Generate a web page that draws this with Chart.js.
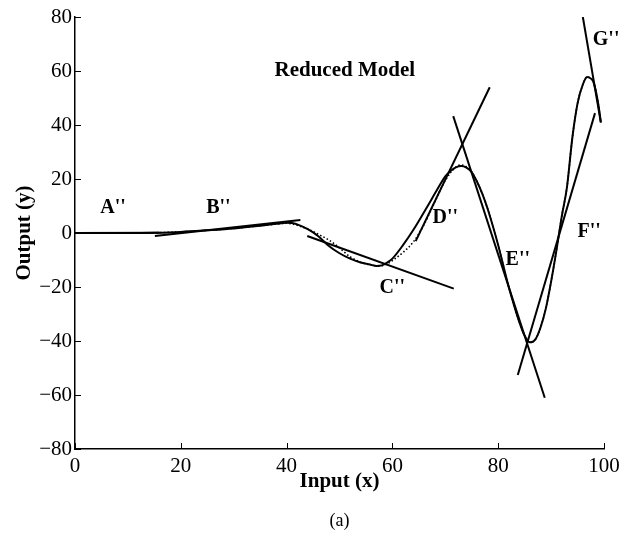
<!DOCTYPE html>
<html>
<head>
<meta charset="utf-8">
<script src="https://cdn.jsdelivr.net/npm/chart.js@4"></script>
<style>
html,body{margin:0;padding:0;background:#fff;}
#wrap{width:629px;height:535px;position:relative;}
</style>
</head>
<body>
<div id="wrap"><canvas id="c"></canvas></div>
<script>
// ---- data ----
const modelX = [0,5,10,15,20,25,30,35,38,40,41,42,44,46,48,50,52,54,56,57,58,59,60,62,64,66,67,68,70,71,72,73,74,75,76,77,78,79,80,82,84,85,86,87,88,89,90,91,92,93,94,95,96,96.8,97.5,98,98.9,99.4];
const modelY = [0,0,0,0.1,0.4,1.0,1.7,2.7,3.4,3.8,3.7,3.2,1.4,-1.2,-4.8,-7.5,-9.5,-10.9,-11.8,-12.2,-12.0,-11.0,-9.5,-4.5,1.3,7.8,11.1,14.5,21,23,24.3,24.8,24.2,22.5,19,14.5,9,2.5,-4.5,-20,-33,-38,-40.5,-39.5,-35,-28,-18,-6.5,6,17,35,48,55,57.8,57.2,56,48,41];

const originalX = [0,5,10,15,20,25,30,35,38,40,41,42,43,44,46,48,50,52,54,56,57,58,59,60,62,64,66,68,70,72,73,74,75,76,77,78,79,80,82,84,85,86,87,88,89,90,91,92,93,94,95,96,96.8,97.5,98,98.9,99.4];
const originalY = [0,0,0,0.1,0.4,1.0,1.7,2.7,3.3,3.6,3.4,2.9,2.2,1.5,-0.5,-2.6,-5.5,-8.8,-10.8,-11.9,-12.2,-12.1,-11.4,-10.2,-7.2,-3.2,3.2,11.5,19.5,24.4,25.2,24.5,22.6,19,14.5,9,2.5,-4.5,-20,-33,-38,-40.5,-39.5,-35,-28,-18,-6.5,6,17,35,48,55,57.8,57.2,56,48,41];

const tangentNames  = ["A''","B''","C''","D''","E''","F''","G''"];
const tangentStartX = [0, 15.1, 43.9, 64.4, 71.5, 83.7, 96.0];
const tangentStartY = [0, -1.1, -1.1, -3.0, 43.3, -52.6, 80];
const tangentEndX   = [16, 42.6, 71.6, 78.4, 88.8, 98.3, 99.4];
const tangentEndY   = [0.1, 4.8, -20.6, 54, -61, 44.4, 41];

const labelText = ["A''","B''","C''","D''","E''","F''","G''","Reduced Model"];
const labelX    = [7.2, 27.1, 60.0, 70.0, 83.7, 97.2, 100.4, 51.0];
const labelY    = [9.2, 9.2, -20.4, 5.5, -10, 0.6, 71.5, 60];

const xTicks = [0,20,40,60,80,100];
const yTicks = [-80,-60,-40,-20,0,20,40,60,80];

// ---- build ----
const pts = (xs, ys) => xs.map((x, i) => ({x: x, y: ys[i]}));

const datasets = [];
datasets.push({
  label: 'Original',
  data: pts(originalX, originalY),
  borderColor: '#000',
  borderWidth: 1.6,
  borderDash: [1.5, 2.2],
  pointRadius: 0,
  showLine: true,
  cubicInterpolationMode: 'monotone',
  order: 2
});
datasets.push({
  label: 'Reduced Model',
  data: pts(modelX, modelY),
  borderColor: '#000',
  borderWidth: 2,
  pointRadius: 0,
  showLine: true,
  cubicInterpolationMode: 'monotone',
  order: 1
});
tangentNames.forEach((n, i) => {
  datasets.push({
    label: n,
    data: [{x: tangentStartX[i], y: tangentStartY[i]}, {x: tangentEndX[i], y: tangentEndY[i]}],
    borderColor: '#000',
    borderWidth: 2,
    pointRadius: 0,
    showLine: true,
    tension: 0,
    order: 0
  });
});

const SERIF = "'Liberation Serif', 'Times New Roman', serif";

const extras = {
  id: 'extras',
  afterDraw(chart) {
    const ctx = chart.ctx;
    const xs = chart.scales.x, ys = chart.scales.y;
    const area = chart.chartArea;
    ctx.save();
    // inward tick marks
    ctx.strokeStyle = '#000';
    ctx.lineWidth = 1;
    xTicks.forEach(v => {
      const px = Math.round(xs.getPixelForValue(v)) + 0.5;
      ctx.beginPath();
      ctx.moveTo(px, area.bottom);
      ctx.lineTo(px, area.bottom - 6);
      ctx.stroke();
    });
    yTicks.forEach(v => {
      const py = Math.round(ys.getPixelForValue(v)) + 0.5;
      ctx.beginPath();
      ctx.moveTo(area.left, py);
      ctx.lineTo(area.left + 6, py);
      ctx.stroke();
    });
    // annotations
    ctx.fillStyle = '#000';
    ctx.textAlign = 'center';
    ctx.textBaseline = 'middle';
    labelText.forEach((t, i) => {
      ctx.font = (t.length > 3 ? "bold 21px " : "bold 20px ") + SERIF;
      ctx.fillText(t, xs.getPixelForValue(labelX[i]), ys.getPixelForValue(labelY[i]));
    });
    // panel caption
    ctx.font = "18px " + SERIF;
    ctx.fillText('(a)', (area.left + area.right) / 2, 521);
    ctx.restore();
  }
};

new Chart(document.getElementById('c'), {
  type: 'scatter',
  data: { datasets: datasets },
  options: {
    responsive: true,
    maintainAspectRatio: false,
    animation: false,
    layout: { padding: { top: 17, right: 25, bottom: 40, left: 0 } },
    plugins: {
      legend: { display: false },
      tooltip: { enabled: false }
    },
    scales: {
      x: {
        type: 'linear',
        min: 0, max: 100,
        afterFit(s) { s.height = 46; },
        afterBuildTicks(s) { s.ticks = xTicks.map(v => ({value: v})); },
        grid: { display: true, drawOnChartArea: false, drawTicks: false },
        border: { display: true, color: '#000', width: 1.5 },
        ticks: { color: '#000', padding: 5, maxRotation: 0, font: { family: SERIF, size: 21 } },
        title: { display: true, text: 'Input (x)', color: '#000', padding: { top: 0, bottom: 1 }, font: { family: SERIF, size: 21, weight: 'bold' } }
      },
      y: {
        type: 'linear',
        min: -80, max: 80,
        afterFit(s) { s.width = 75; },
        afterBuildTicks(s) { s.ticks = yTicks.map(v => ({value: v})); },
        grid: { display: true, drawOnChartArea: false, drawTicks: false },
        border: { display: true, color: '#000', width: 1.5 },
        ticks: {
          color: '#000', padding: 3, font: { family: SERIF, size: 21 },
          callback: v => String(v).replace('-', '\u2212')
        },
        title: { display: true, text: 'Output (y)', color: '#000', padding: { top: 12, bottom: 0 }, font: { family: SERIF, size: 21, weight: 'bold' } }
      }
    }
  },
  plugins: [extras]
});
</script>
</body>
</html>
